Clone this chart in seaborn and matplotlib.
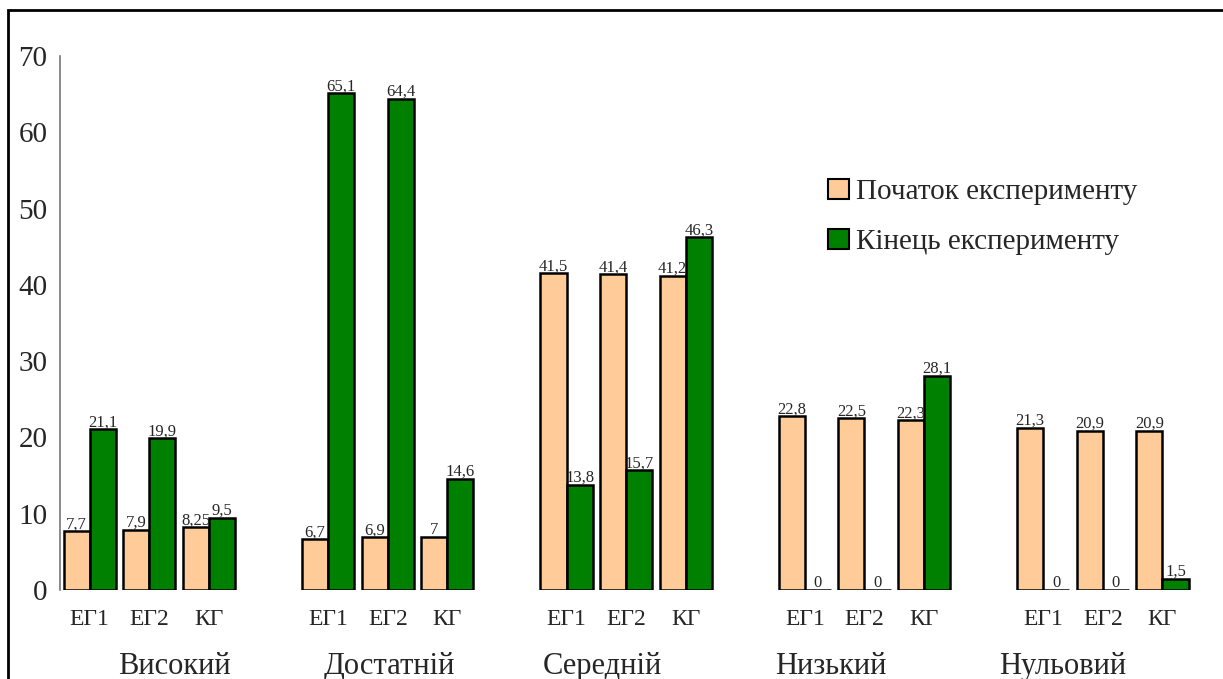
import pandas as pd
import matplotlib.pyplot as plt
import seaborn as sns
from matplotlib.patches import Rectangle, Patch

levels = ["Високий", "Достатній", "Середній", "Низький", "Нульовий"]
groups = ["ЕГ1", "ЕГ2", "КГ"]
start = [7.7, 7.9, 8.25,
         6.7, 6.9, 7,
         41.5, 41.4, 41.2,
         22.8, 22.5, 22.3,
         21.3, 20.9, 20.9]
end = [21.1, 19.9, 9.5,
       65.1, 64.4, 14.6,
       13.8, 15.7, 46.3,
       0, 0, 28.1,
       0, 0, 1.5]
stages = ["Початок експерименту", "Кінець експерименту"]

rows = []
for i, lvl in enumerate(levels):
    for j, g in enumerate(groups):
        k = i * 3 + j
        pos = i * 4 + j
        rows.append((pos, stages[0], start[k]))
        rows.append((pos, stages[1], end[k]))
df = pd.DataFrame(rows, columns=["pos", "stage", "value"])

sns.set_style("white")
plt.rcParams["font.family"] = ["Liberation Serif", "DejaVu Serif"]

fig = plt.figure(figsize=(12.23, 6.79), dpi=100)
ax = fig.add_axes([60 / 1223, 89 / 679, 1140 / 1223, 534 / 679])

palette = {stages[0]: "#FFCC99", stages[1]: "#008000"}
sns.barplot(data=df, x="pos", y="value", hue="stage", native_scale=True,
            palette=palette, width=0.875, edgecolor="black", linewidth=1.8,
            saturation=1, ax=ax, legend=False)

for cont in ax.containers:
    labels = [f"{b.get_height():g}".replace(".", ",") for b in cont]
    ax.bar_label(cont, labels=labels, padding=-1, fontsize=12)

ax.set_xlim(-0.5, 18.63)
ax.set_ylim(0, 70)
ax.set_yticks(range(0, 71, 10))
ax.tick_params(axis="y", labelsize=21, length=7, color="#777777", width=1.2, pad=2)
ax.tick_params(axis="x", labelsize=17, length=0, pad=14)
ax.set_xticks([i * 4 + j for i in range(len(levels)) for j in range(len(groups))])
ax.set_xticklabels(groups * len(levels))
ax.set_xlabel("")
ax.set_ylabel("")
for s in ["top", "right", "bottom"]:
    ax.spines[s].set_visible(False)
ax.spines["left"].set_color("#777777")
ax.spines["left"].set_linewidth(1.2)

label_shift = [0.42, 0.03, -0.40, -0.57, -0.67]
for i, lvl in enumerate(levels):
    ax.text(i * 4 + 1 + label_shift[i], -0.143, lvl, transform=ax.get_xaxis_transform(),
            ha="center", va="center", fontsize=22)

handles = [Patch(facecolor=palette[s], edgecolor="black", linewidth=1.5) for s in stages]
ax.legend(handles, stages, loc="upper left", bbox_to_anchor=(0.674, 0.77),
          frameon=False, fontsize=21, handlelength=0.7, handleheight=0.7,
          handletextpad=0.25, labelspacing=0.8, borderpad=0, borderaxespad=0)

fig.patches.append(Rectangle((8 / 1223, -0.1), 1.2, 0.1 + 669 / 679,
                             transform=fig.transFigure, fill=False,
                             edgecolor="black", linewidth=2))

fig.savefig("out.png", dpi=100)
